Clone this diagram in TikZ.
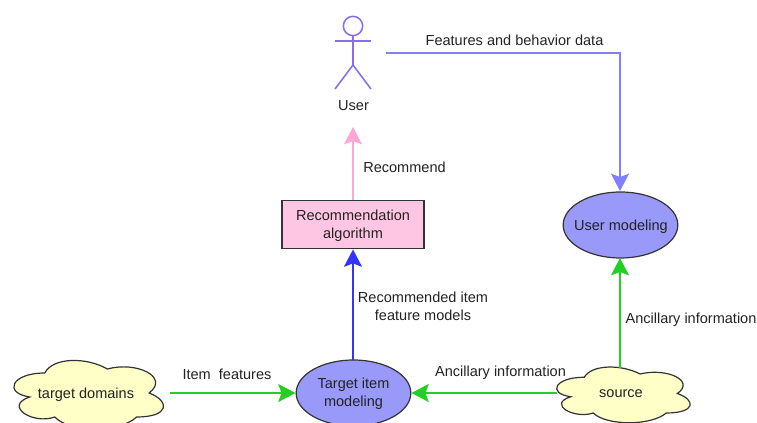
\documentclass[tikz,border=0pt]{standalone}
\usepackage{fontspec}
\setmainfont{Liberation Sans}
\usetikzlibrary{arrows.meta,shapes.geometric}
\definecolor{cloudfill}{HTML}{FFFFC8}
\definecolor{ellfill}{HTML}{9999FA}
\definecolor{pinkfill}{HTML}{FFC6E3}
\definecolor{edgegrey}{HTML}{333333}
\definecolor{greenline}{HTML}{22D022}
\definecolor{purpline}{HTML}{8A6CF0}
\definecolor{periline}{HTML}{8080FF}
\definecolor{pinkline}{HTML}{FFA6D2}
\definecolor{blueline}{HTML}{3333FF}
\definecolor{txt}{HTML}{222222}
\tikzset{
  x=0.75pt,y=-0.75pt,
  lbl/.style={font=\fontsize{10.9pt}{13.5pt}\selectfont,text=txt,align=center,inner sep=0pt},
  ell/.style={ellipse,draw=edgegrey,fill=ellfill,line width=0.9pt,inner sep=0pt},
  conn/.style={line width=1.15pt},
  tip/.style={-{Stealth[length=13pt,width=13.5pt,inset=2.5pt]}},
  cloudline/.style={draw=edgegrey,fill=cloudfill,line width=0.9pt},
  actor/.style={draw=purpline,line width=1.15pt},
}
\newcommand{\cloudshape}[4]{% x0,y0,w,h
  \begin{scope}[shift={(#1,#2)},x=#3*0.75pt,y=-#4*0.75pt]
  \path[cloudline] (.25,.25) .. controls (.05,.25) and (0,.5) .. (.16,.55)
    .. controls (0,.66) and (.18,.9) .. (.31,.8)
    .. controls (.4,1) and (.7,1) .. (.8,.8)
    .. controls (1,.8) and (1,.6) .. (.875,.5)
    .. controls (1,.3) and (.8,.1) .. (.625,.2)
    .. controls (.5,.05) and (.3,.05) .. (.25,.25) -- cycle;
  \end{scope}}
\begin{document}
\begin{tikzpicture}
\useasboundingbox (0,0) rectangle (757,423);
\clip (0,0) rectangle (757,423);
% clouds
\cloudshape{3}{353}{167}{80}
\cloudshape{547}{361}{149}{65}
\node[lbl] (target) at (86,394.5) {target domains};
\node[lbl] (source) at (621,393.5) {source};
\coordinate (targetE) at (170,393);
\coordinate (sourceW) at (557,393);
\coordinate (sourceN) at (620,368);
% ellipses and box
\node[ell,minimum width=86pt,minimum height=49.5pt] (um) at (620.5,225) {};
\coordinate (umN) at (620,191);
\coordinate (umS) at (620,258);
\node[lbl] (umtext) at (621,226.5) {User modeling};
\node[ell,minimum width=86pt,minimum height=49.5pt] (tm) at (353.5,393) {};
\coordinate (tmN) at (353,360);
\node[lbl] (tmtext) at (353.5,393.5) {Target item\\modeling};
\node[draw=edgegrey,fill=pinkfill,line width=0.9pt,minimum width=106.5pt,minimum height=36.5pt,inner sep=0pt] (ra) at (353,224.5) {};
\node[lbl] (ratext) at (353,225.5) {Recommendation\\algorithm};
% actor
\node[circle,draw=purpline,line width=1.15pt,minimum size=14.5pt,inner sep=0pt] (head) at (353,26) {};
\coordinate (armL) at (335,41);
\coordinate (armR) at (371,41);
\coordinate (hip) at (353,65);
\coordinate (footL) at (335,89);
\coordinate (footR) at (371,89);
\draw[actor] (head.south) -- (hip);
\draw[actor] (armL) -- (armR);
\draw[actor] (footL) -- (hip) -- (footR);
\node[lbl] (user) at (353.5,105.5) {User};
\coordinate (userE) at (386,53);
\coordinate (userS) at (353,127);
% connectors
\draw[conn,periline,tip] (userE) -| (umN);
\draw[conn,pinkline,tip] (ra.north) -- (userS);
\draw[conn,blueline,tip] (tmN) -- (ra.south);
\draw[conn,greenline,tip] (targetE) -- (tm.west);
\draw[conn,greenline,tip] (sourceW) -- (tm.east);
\draw[conn,greenline,tip] (sourceN) -- (umS);
% labels
\node[lbl] (l1) at (514.5,40) {Features and behavior data};
\node[lbl] (l2) at (404.5,167) {Recommend};
\node[lbl] (l3) at (423,306.5) {Recommended item\\feature models};
\node[lbl] (l4) at (691,319.5) {Ancillary information};
\node[lbl] (l5) at (500.5,372.5) {Ancillary information};
\node[lbl] (l6) at (227,374) {Item~~features};
\end{tikzpicture}
\end{document}
